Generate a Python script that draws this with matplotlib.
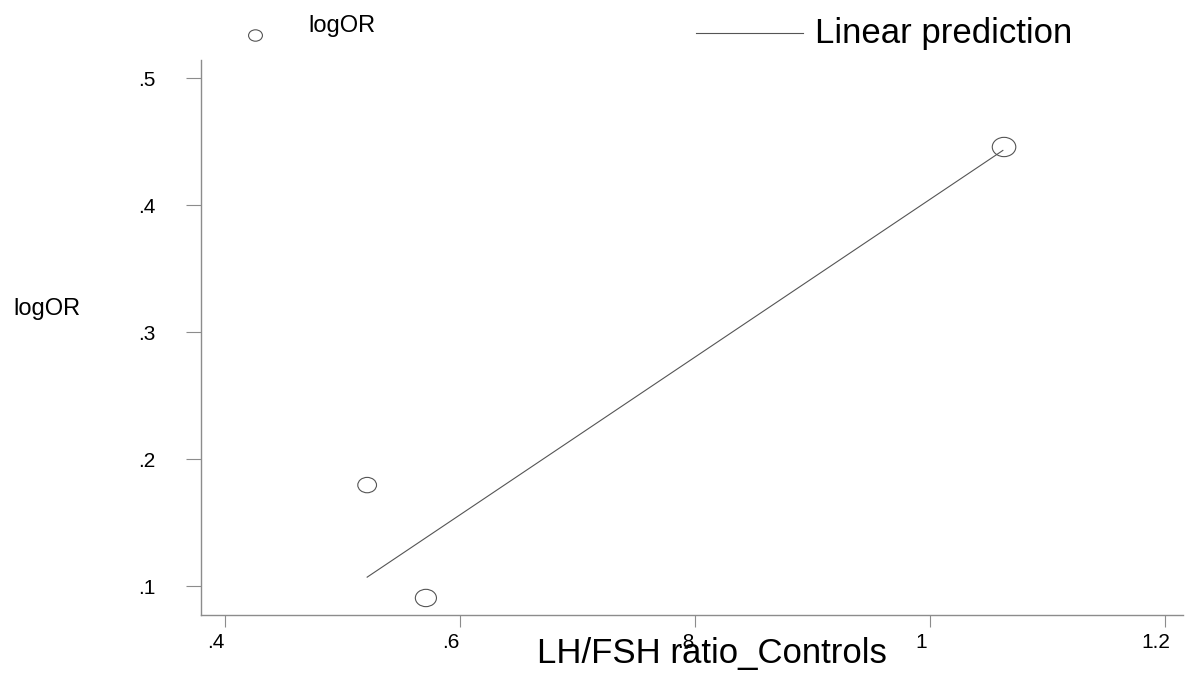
import numpy as np
import matplotlib.pyplot as plt
from matplotlib.path import Path
from matplotlib.transforms import Affine2D, ScaledTranslation
from matplotlib.lines import Line2D

plt.rcParams['font.family'] = ['Liberation Sans', 'DejaVu Sans']

# study level data
ratio = [0.521, 0.571, 1.063]
logor = [0.1795, 0.0906, 0.4457]
weight = [0.26, 0.33, 0.41]

# linear prediction from the meta-regression
pred_x = [0.521, 1.062]
pred_y = [0.107, 0.443]

xticks = [0.4, 0.6, 0.8, 1.0, 1.2]
xlabels = ['.4', '.6', '.8', '1', '1.2']
yticks = [0.1, 0.2, 0.3, 0.4, 0.5]
ylabels = ['.1', '.2', '.3', '.4', '.5']

gray = '#555555'
axgray = '#8c8c8c'

# slightly flattened circle, like the stata hollow marker
oval = Path.unit_circle().transformed(Affine2D().scale(1.0, 0.82))

fig = plt.figure(figsize=(11.9, 6.77), dpi=100)
ax = fig.add_axes([201 / 1190, 1 - 615 / 677, (1183 - 201) / 1190, (615 - 60) / 677])

sizes = np.array(weight) * 700
ax.scatter(ratio, logor, s=sizes, marker=oval, facecolors='none',
           edgecolors=gray, linewidths=0.8, zorder=3)
ax.plot(pred_x, pred_y, color=gray, lw=0.8)

ax.set_xlim(0.3796, 1.2153)
ax.set_ylim(0.0772, 0.5142)

ax.spines['top'].set_visible(False)
ax.spines['right'].set_visible(False)
for s in ['left', 'bottom']:
    ax.spines[s].set_color(axgray)
    ax.spines[s].set_linewidth(1.0)

ax.set_xticks(xticks)
ax.set_xticklabels(xlabels)
ax.set_yticks(yticks)
ax.set_yticklabels(ylabels)
ax.tick_params(axis='x', direction='out', length=8.6, width=0.8, color=axgray,
               labelsize=15, pad=4)
ax.tick_params(axis='y', direction='out', length=10.8, width=0.8, color=axgray,
               labelsize=15, pad=22)

# x tick labels sit a little left of their ticks
shift = ScaledTranslation(-9 / 100, 0, fig.dpi_scale_trans)
for lab in ax.get_xticklabels():
    lab.set_transform(lab.get_transform() + shift)

# axis titles
fig.text(13 / 1190, 1 - 309 / 677, 'logOR', fontsize=17, ha='left', va='center')
fig.text(712 / 1190, 1 - 663 / 677, 'LH/FSH ratio_Controls', fontsize=25,
         ha='center', va='baseline')

# legend across the top
fig.add_artist(Line2D([255 / 1190], [1 - 35 / 677], marker=oval, markersize=10,
                      markerfacecolor='none', markeredgecolor=gray,
                      markeredgewidth=0.8, linestyle='none',
                      transform=fig.transFigure))
fig.text(308 / 1190, 1 - 32 / 677, 'logOR', fontsize=17, ha='left', va='baseline')
fig.add_artist(Line2D([696 / 1190, 803 / 1190], [1 - 33 / 677, 1 - 33 / 677],
                      color=gray, lw=0.8, transform=fig.transFigure))
fig.text(815 / 1190, 1 - 43 / 677, 'Linear prediction', fontsize=25,
         ha='left', va='baseline')

fig.savefig('out.png', dpi=100)
